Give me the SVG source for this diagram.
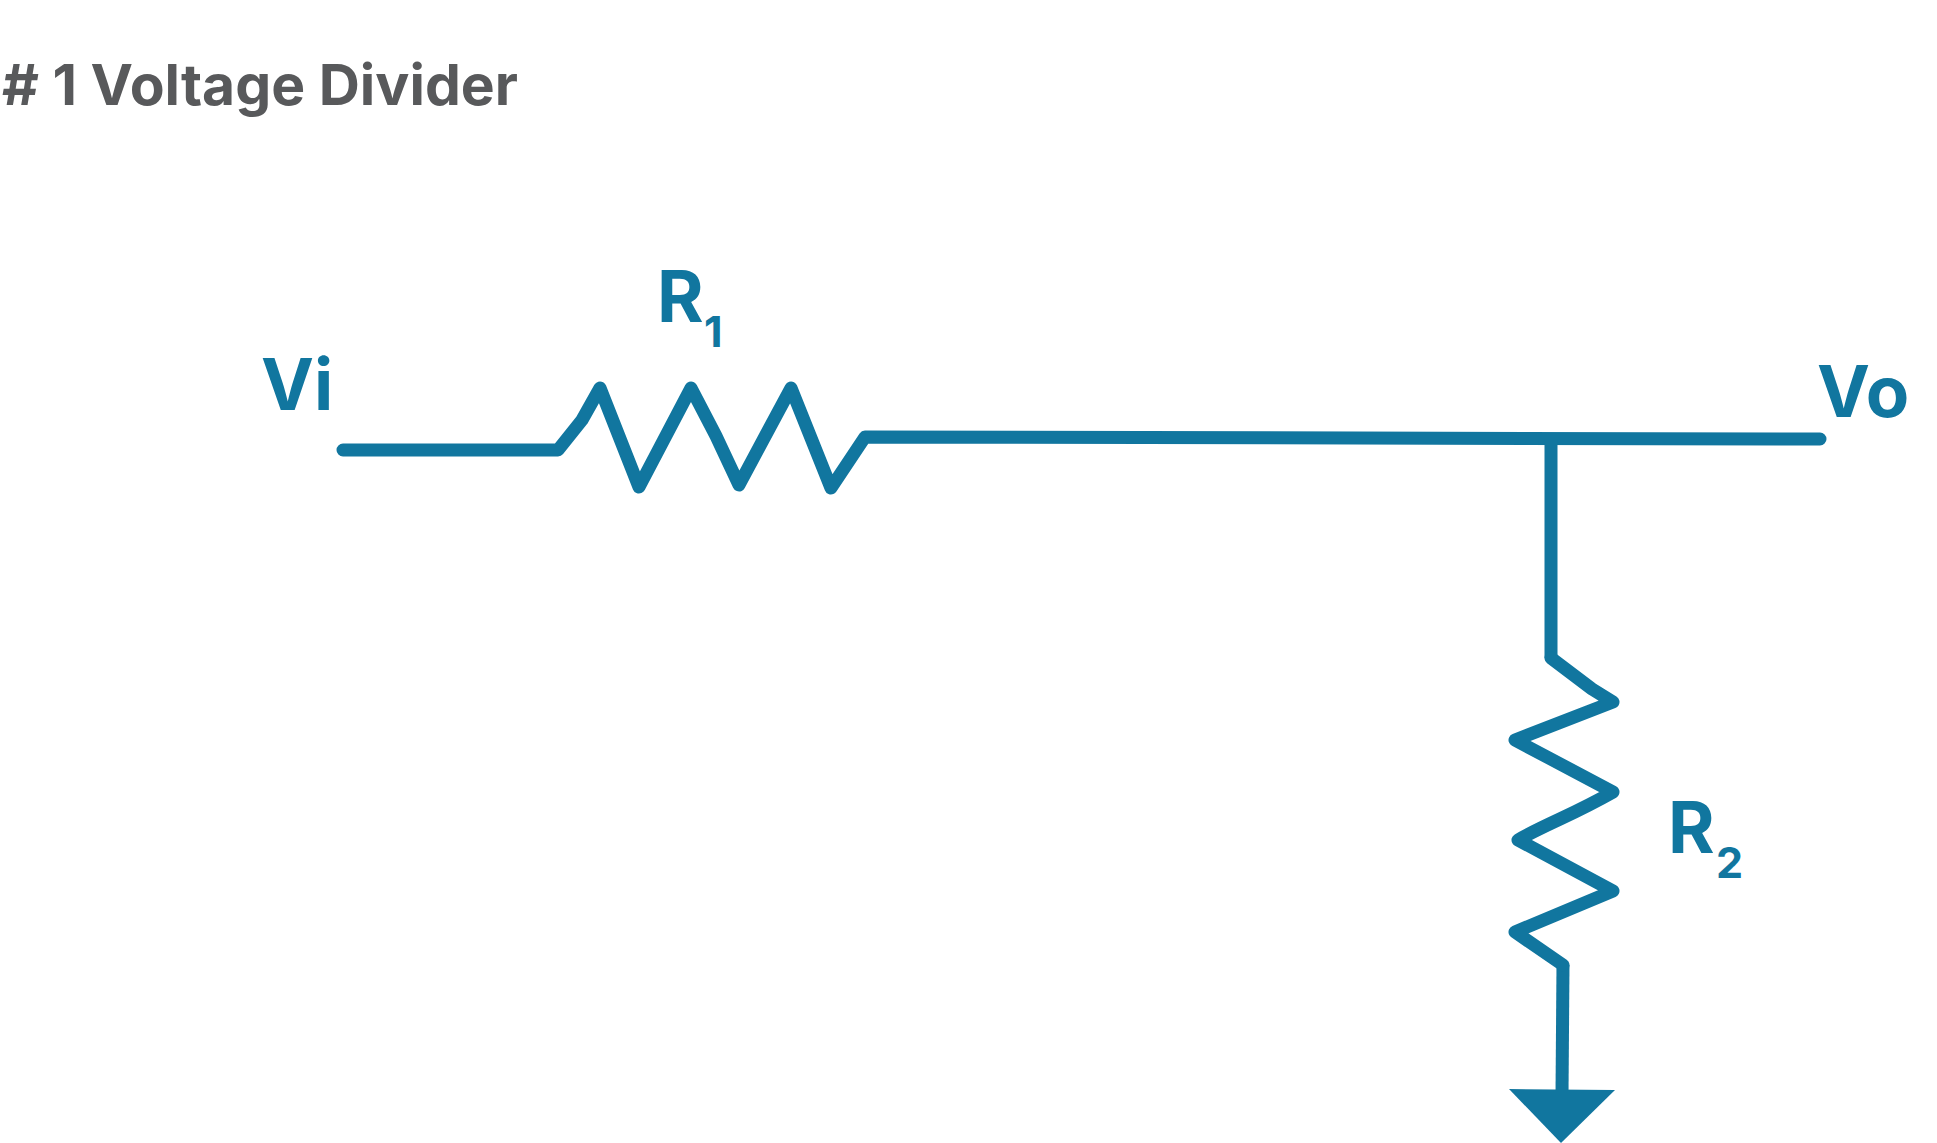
<svg xmlns="http://www.w3.org/2000/svg" width="1937" height="1143" viewBox="0 0 1937 1143">
<style>
.t{font-family:"Inter","Liberation Sans",sans-serif;font-weight:700;fill:#11769f}
.w{fill:none;stroke:#11769f;stroke-width:13;stroke-linejoin:round;stroke-linecap:round}
</style>
<rect width="1937" height="1143" fill="#fff"/>
<g id="title"><text x="2" y="105" class="t" style="fill:#58595b;font-size:56px" textLength="516" lengthAdjust="spacingAndGlyphs"># 1 Voltage Divider</text></g>
<g id="connectors">
<path class="w" d="M343 450H558L582 420L600 388L639 487L691 388L716 436L739 485L791 388L831 488L865 437L1820 439"/>
<path class="w" style="stroke-linecap:butt" d="M1551 439V658"/>
<path class="w" style="stroke-linecap:butt" d="M1562 1094L1563 965"/>
</g>
<g id="R1"><text x="657" y="322" class="t" font-size="71">R</text><text x="704" y="347" class="t" font-size="43">1</text></g>
<g id="R2"><path class="w" d="M1551 658L1592 689L1613 702L1515 740L1613 792Q1590 805 1560 819Q1530 833 1518 840L1613 891L1515 932L1563 965"/>
<text x="1668" y="853" class="t" font-size="71">R</text><text x="1716" y="878" class="t" font-size="43">2</text></g>
<g id="Vi"><text x="261" y="410" class="t" font-size="71">Vi</text></g>
<g id="Vo"><text x="1817" y="417" class="t" font-size="71">Vo</text></g>
<g id="ground"><polygon points="1509,1089 1615,1090 1561,1143" fill="#11769f"/></g>
</svg>
